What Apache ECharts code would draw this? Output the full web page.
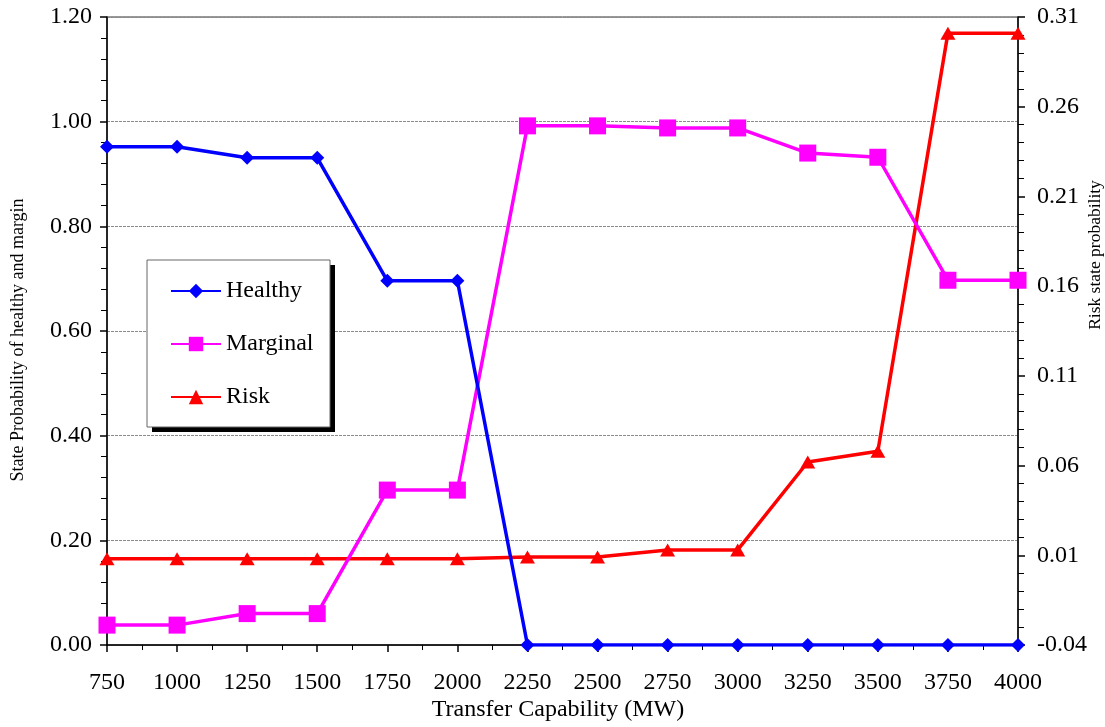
<!DOCTYPE html>
<html>
<head>
<meta charset="utf-8">
<script src="https://cdn.jsdelivr.net/npm/echarts@6/dist/echarts.min.js"></script>
<style>
  html, body { margin: 0; padding: 0; background: #fff; }
  #chart { width: 1105px; height: 727px; }
</style>
</head>
<body>
<div id="chart"></div>
<script>
// Transfer capability levels (MW)
const transfer = [750, 1000, 1250, 1500, 1750, 2000, 2250, 2500, 2750, 3000, 3250, 3500, 3750, 4000];
// State probabilities (left axis)
const healthy  = [0.952, 0.952, 0.931, 0.931, 0.696, 0.696, 0, 0, 0, 0, 0, 0, 0, 0];
const marginal = [0.038, 0.038, 0.060, 0.060, 0.296, 0.296, 0.992, 0.992, 0.988, 0.988, 0.940, 0.932, 0.697, 0.697];
// Risk state probability (right axis)
const risk     = [0.008, 0.008, 0.008, 0.008, 0.008, 0.008, 0.009, 0.009, 0.013, 0.013, 0.062, 0.068, 0.301, 0.301];

const FONT = '"Liberation Serif", "Times New Roman", serif';
const pairs = ys => transfer.map((x, i) => [x, ys[i]]);

const chart = echarts.init(document.getElementById('chart'), null, { renderer: 'canvas' });

const axisLine = { show: true, lineStyle: { color: '#000', width: 1.5 } };

// legend frame with a solid drop shadow
const LEG = { x: 147, y: 260, w: 183, h: 167, off: 5 };

chart.setOption({
  animation: false,
  backgroundColor: '#fff',
  textStyle: { fontFamily: FONT },
  grid: {
    left: 107, right: 87, top: 17, bottom: 82,
    show: true, borderColor: '#333', borderWidth: 1, backgroundColor: 'transparent'
  },
  legend: {
    orient: 'vertical',
    left: 170, top: 279,
    data: ['Healthy', 'Marginal', 'Risk'],
    itemWidth: 50, itemHeight: 18, itemGap: 29,
    padding: 0,
    z: 20,
    textStyle: { fontFamily: FONT, fontSize: 24, color: '#000', lineHeight: 24 }
  },
  xAxis: {
    type: 'value',
    min: 750, max: 4000, interval: 250,
    axisLine: axisLine,
    axisTick: { show: true, length: 7, lineStyle: { color: '#000', width: 1.5 } },
    minorTick: { show: true, splitNumber: 2, length: 5, lineStyle: { color: '#000', width: 1 } },
    splitLine: { show: false },
    axisLabel: { margin: 26, fontFamily: FONT, fontSize: 24, color: '#000',
                 formatter: v => String(v) }
  },
  yAxis: [
    {
      type: 'value',
      position: 'left',
      min: 0, max: 1.2, interval: 0.2,
      axisLine: axisLine,
      axisTick: { show: true, length: 7, lineStyle: { color: '#000', width: 1.5 } },
      minorTick: { show: true, splitNumber: 5, length: 6, lineStyle: { color: '#000', width: 1 } },
      splitLine: { show: true, lineStyle: { color: '#8a8a8a', width: 1, type: [3, 1] } },
      axisLabel: { margin: 15, fontFamily: FONT, fontSize: 24, color: '#000',
                   formatter: v => v.toFixed(2) }
    },
    {
      type: 'value',
      position: 'right',
      min: -0.04, max: 0.31, interval: 0.05,
      axisLine: axisLine,
      axisTick: { show: true, length: 7, lineStyle: { color: '#000', width: 1.5 } },
      minorTick: { show: true, splitNumber: 5, length: 6, lineStyle: { color: '#000', width: 1 } },
      splitLine: { show: false },
      axisLabel: { margin: 19, fontFamily: FONT, fontSize: 24, color: '#000',
                   formatter: v => v.toFixed(2) }
    }
  ],
  graphic: [
    {
      type: 'rect', z: 10,
      shape: { x: LEG.x + LEG.off, y: LEG.y + LEG.off, width: LEG.w, height: LEG.h },
      style: { fill: '#000' }
    },
    {
      type: 'rect', z: 11,
      shape: { x: LEG.x, y: LEG.y, width: LEG.w, height: LEG.h },
      style: { fill: '#fff', stroke: '#666', lineWidth: 1 }
    },
    {
      type: 'text', x: 18, y: 340, rotation: Math.PI / 2,
      style: { text: 'State Probability of healthy and margin', font: '18px ' + FONT,
               fill: '#000', align: 'center', verticalAlign: 'middle' }
    },
    {
      type: 'text', x: 1095, y: 255, rotation: Math.PI / 2,
      style: { text: 'Risk state probability', font: '17.5px ' + FONT,
               fill: '#000', align: 'center', verticalAlign: 'middle' }
    },
    {
      type: 'text', x: 558, y: 710,
      style: { text: 'Transfer Capability (MW)', font: '24px ' + FONT,
               fill: '#000', align: 'center', verticalAlign: 'middle' }
    }
  ],
  series: [
    {
      name: 'Risk', type: 'line', yAxisIndex: 1,
      data: pairs(risk),
      symbol: 'triangle', symbolSize: [15, 13],
      lineStyle: { color: '#ff0000', width: 3.5 },
      itemStyle: { color: '#ff0000' }
    },
    {
      name: 'Marginal', type: 'line', yAxisIndex: 0,
      data: pairs(marginal),
      symbol: 'rect', symbolSize: 17,
      lineStyle: { color: '#ff00ff', width: 3.5 },
      itemStyle: { color: '#ff00ff' }
    },
    {
      name: 'Healthy', type: 'line', yAxisIndex: 0,
      data: pairs(healthy),
      symbol: 'diamond', symbolSize: 14,
      lineStyle: { color: '#0000ff', width: 3.5 },
      itemStyle: { color: '#0000ff' }
    }
  ]
});
</script>
</body>
</html>
